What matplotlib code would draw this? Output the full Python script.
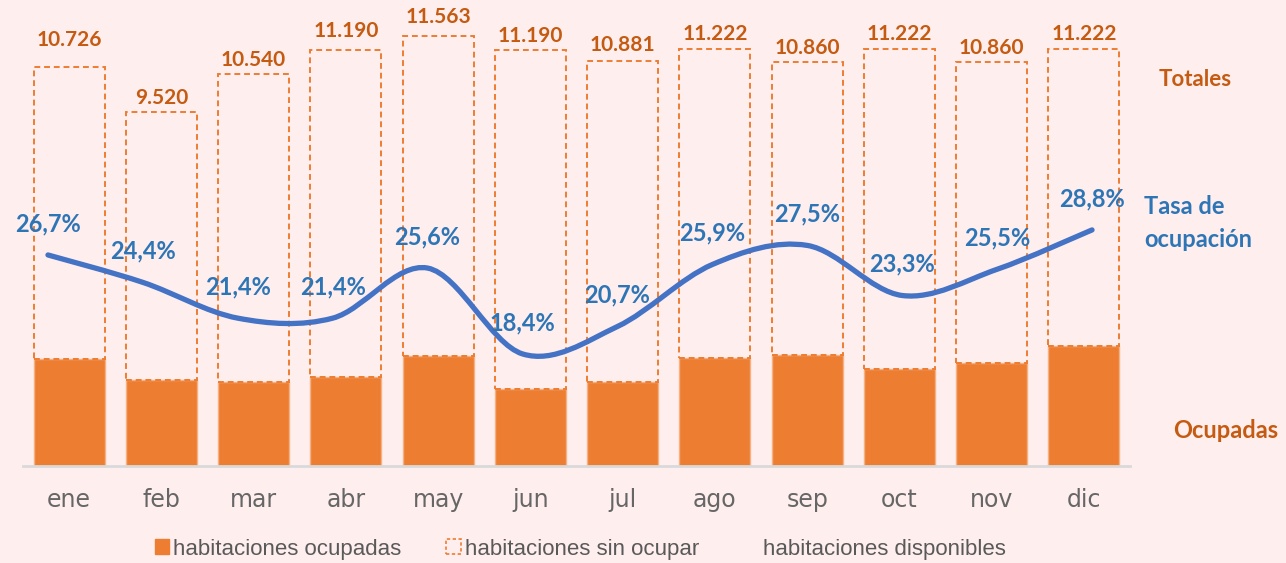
import matplotlib
matplotlib.use('Agg')
import matplotlib.pyplot as plt
from matplotlib.patches import Patch, PathPatch
from matplotlib.path import Path
import numpy as np

# data
months = ['ene', 'feb', 'mar', 'abr', 'may', 'jun', 'jul', 'ago', 'sep', 'oct', 'nov', 'dic']
totales = [10726, 9520, 10540, 11190, 11563, 11190, 10881, 11222, 10860, 11222, 10860, 11222]
ocupadas = [2864, 2323, 2256, 2395, 2960, 2059, 2252, 2907, 2987, 2615, 2769, 3232]
tasa = [26.7, 24.4, 21.4, 21.4, 25.6, 18.4, 20.7, 25.9, 27.5, 23.3, 25.5, 28.8]

# extra lift (px) for some total labels, as placed in the original
total_label_dy = [13, 0, 0, 5, 5, 0, 2, 0, 0, 0, 0, 0]

bg = '#FEEEEE'
orange = '#ED7D31'
dark_orange = '#C55A11'
blue_line = '#4472C4'
blue_text = '#2E75B6'
grey = '#595959'

W, H = 1286, 563
fig = plt.figure(figsize=(W / 100, H / 100), dpi=100, facecolor=bg)

rect = [23 / W, 1 - 466 / H, (1130 - 23) / W, (466 - 1) / H]
ax = fig.add_axes(rect)
ax.set_facecolor(bg)

x = np.arange(len(months))
sin_ocupar = [t - o for t, o in zip(totales, ocupadas)]

ax.bar(x, ocupadas, width=0.77, color=orange, edgecolor='#F4B183', linewidth=1.0, zorder=2)
ax.bar(x, sin_ocupar, bottom=ocupadas, width=0.77, facecolor='none', edgecolor=orange,
       linewidth=1.4, linestyle=(0, (3, 2)), zorder=3)

for i, t in enumerate(totales):
    label = '{:,}'.format(t).replace(',', '.')
    ax.annotate(label, (x[i], t), xytext=(0, 3 + total_label_dy[i] * 0.72),
                textcoords='offset points', ha='center', va='bottom',
                fontsize=15, fontweight='bold', family='Lato', color=dark_orange)

ax.set_xlim(-0.5, len(months) - 0.5)
ax.set_ylim(0, 12500)
ax.set_yticks([])
ax.set_xticks(x)
ax.set_xticklabels(months, fontsize=17, color='#666666', family='DejaVu Sans')
ax.tick_params(axis='x', length=0, pad=16)
for s in ['top', 'right', 'left']:
    ax.spines[s].set_visible(False)
ax.spines['bottom'].set_color('#D9D9D9')
ax.spines['bottom'].set_linewidth(2)

# secondary axes for the occupancy rate
ax2 = fig.add_axes(rect)
ax2.patch.set_visible(False)
ax2.axis('off')
ax2.set_xlim(-0.263, 11.40)
ax2.set_ylim(9.0, 48.0)

# smoothed line (Catmull-Rom as cubic Bezier, like Excel's smoothing)
pts = np.column_stack([x, tasa]).astype(float)
n = len(pts)
verts = [pts[0]]
codes = [Path.MOVETO]
for i in range(n - 1):
    p0 = pts[i - 1] if i > 0 else pts[i]
    p1 = pts[i]
    p2 = pts[i + 1]
    p3 = pts[i + 2] if i + 2 < n else pts[i + 1]
    c1 = p1 + (p2 - p0) / 6.0
    c2 = p2 - (p3 - p1) / 6.0
    verts += [c1, c2, p2]
    codes += [Path.CURVE4] * 3
ax2.add_patch(PathPatch(Path(verts, codes), facecolor='none', edgecolor=blue_line,
                        linewidth=3.8, capstyle='round', zorder=5))

for i, v in enumerate(tasa):
    ax2.annotate('{:.1f}%'.format(v).replace('.', ','), (x[i], v), xytext=(0, 22.5),
                 textcoords='offset points', ha='center', va='center',
                 fontsize=17, fontweight='bold', family='Lato', color=blue_text, zorder=6)

# side labels
fig.text(1159 / W, 1 - 80 / H, 'Totales', ha='left', va='center', fontsize=16,
         fontweight='bold', family='Lato', color=dark_orange)
fig.text(1144 / W, 1 - 207 / H, 'Tasa de', ha='left', va='center', fontsize=17,
         fontweight='bold', family='Lato', color=blue_text)
fig.text(1144 / W, 1 - 240 / H, 'ocupación', ha='left', va='center', fontsize=17,
         fontweight='bold', family='Lato', color=blue_text)
fig.text(1173 / W, 1 - 430 / H, 'Ocupadas', ha='left', va='center', fontsize=17,
         fontweight='bold', family='Lato', color=dark_orange)

handles = [Patch(facecolor=orange, edgecolor=orange),
           Patch(facecolor='none', edgecolor=orange, linestyle=(0, (2, 1.5)), linewidth=1.2),
           Patch(facecolor='none', edgecolor='none')]
labels = ['habitaciones ocupadas', 'habitaciones sin ocupar', 'habitaciones disponibles']
fig.legend(handles, labels, loc='center', bbox_to_anchor=(580 / W, 1 - 549 / H), ncol=3,
           frameon=False, prop={'family': 'Liberation Sans', 'size': 16},
           labelcolor=grey, handlelength=0.65, handleheight=0.65, handletextpad=0.2,
           columnspacing=2.0, borderpad=0)

fig.savefig('out.png', dpi=100, facecolor=bg)
